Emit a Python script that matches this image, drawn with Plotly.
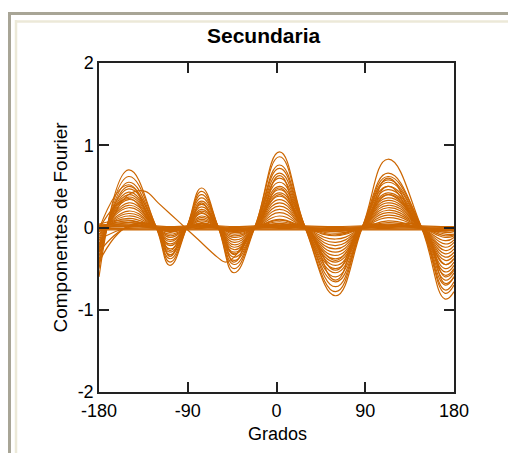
import plotly.graph_objects as go

# Key angles (degrees) at which each Fourier component curve was read
grados = [-180, -150, -122, -108, -91, -76, -59, -43, -22, 3, 29, 60, 87, 113, 147, 171, 180]

# Component curves (values at the angles above)
componentes = [
    [-0.60, 0.70, 0.00, -0.46, 0.00, 0.48, 0.00, -0.55, 0.00, 0.92, 0.00, -0.83, 0.00, 0.83, 0.00, -0.87, -0.78],
    [-0.50, 0.62, 0.01, -0.42, 0.00, 0.44, 0.00, -0.50, 0.01, 0.86, 0.00, -0.78, 0.01, 0.66, 0.00, -0.80, -0.70],
    [-0.45, 0.55, 0.00, -0.38, 0.01, 0.40, 0.00, -0.45, 0.00, 0.76, 0.01, -0.72, 0.00, 0.62, 0.01, -0.76, -0.66],
    [-0.40, 0.50, 0.00, -0.33, 0.00, 0.36, 0.01, -0.40, 0.00, 0.72, 0.00, -0.66, 0.00, 0.58, 0.00, -0.70, -0.60],
    [-0.35, 0.47, 0.01, -0.30, 0.00, 0.32, 0.00, -0.36, 0.00, 0.66, 0.00, -0.60, 0.00, 0.55, 0.00, -0.64, -0.55],
    [-0.30, 0.43, 0.00, -0.26, 0.00, 0.28, 0.00, -0.32, 0.01, 0.60, 0.00, -0.55, 0.01, 0.50, 0.00, -0.58, -0.50],
    [-0.28, 0.40, 0.00, -0.22, 0.00, 0.25, 0.00, -0.30, 0.00, 0.55, 0.00, -0.50, 0.00, 0.46, 0.00, -0.54, -0.46],
    [-0.25, 0.37, 0.00, -0.20, 0.00, 0.22, 0.00, -0.27, 0.00, 0.50, 0.01, -0.46, 0.00, 0.42, 0.00, -0.50, -0.42],
    [-0.22, 0.34, 0.00, -0.17, 0.00, 0.20, 0.00, -0.24, 0.00, 0.46, 0.00, -0.42, 0.00, 0.40, 0.00, -0.45, -0.38],
    [-0.20, 0.30, 0.00, -0.15, 0.00, 0.17, 0.00, -0.21, 0.00, 0.42, 0.00, -0.38, 0.00, 0.36, 0.00, -0.40, -0.34],
    [-0.16, 0.27, 0.00, -0.12, 0.00, 0.14, 0.00, -0.18, 0.00, 0.38, 0.00, -0.34, 0.00, 0.33, 0.00, -0.36, -0.30],
    [-0.13, 0.24, 0.00, -0.10, 0.00, 0.12, 0.00, -0.15, 0.00, 0.34, 0.00, -0.30, 0.00, 0.30, 0.00, -0.32, -0.26],
    [-0.10, 0.20, 0.00, -0.08, 0.00, 0.10, 0.00, -0.12, 0.00, 0.30, 0.00, -0.26, 0.00, 0.27, 0.00, -0.28, -0.22],
    [-0.08, 0.17, 0.00, -0.06, 0.00, 0.08, 0.00, -0.10, 0.00, 0.26, 0.00, -0.22, 0.00, 0.24, 0.00, -0.24, -0.18],
    [-0.05, 0.14, 0.00, -0.05, 0.00, 0.06, 0.00, -0.08, 0.00, 0.22, 0.00, -0.18, 0.00, 0.21, 0.00, -0.20, -0.15],
    [-0.03, 0.11, 0.00, -0.03, 0.00, 0.05, 0.00, -0.06, 0.00, 0.18, 0.00, -0.14, 0.00, 0.18, 0.00, -0.16, -0.12],
    [0.00, 0.08, 0.00, -0.02, 0.00, 0.04, 0.00, -0.04, 0.00, 0.14, 0.00, -0.10, 0.00, 0.15, 0.00, -0.12, -0.10],
    [0.02, 0.06, 0.00, -0.02, 0.00, 0.03, 0.00, -0.03, 0.00, 0.10, 0.00, -0.07, 0.00, 0.12, 0.00, -0.08, -0.08],
    [-0.02, 0.52, 0.00, -0.02, 0.00, 0.30, 0.00, -0.03, 0.00, 0.63, 0.00, -0.03, 0.00, 0.60, 0.00, -0.04, -0.03],
    [-0.02, 0.35, 0.00, -0.01, 0.00, 0.18, 0.00, -0.02, 0.00, 0.48, 0.00, -0.02, 0.00, 0.50, 0.00, -0.03, -0.02],
    [-0.42, 0.02, 0.00, -0.35, 0.00, 0.02, 0.00, -0.42, 0.00, 0.03, 0.00, -0.64, 0.00, 0.03, 0.00, -0.68, -0.60],
    [-0.30, 0.01, 0.00, -0.28, 0.00, 0.01, 0.00, -0.33, 0.00, 0.02, 0.00, -0.52, 0.00, 0.02, 0.00, -0.60, -0.52],
    [0.03, 0.04, 0.00, -0.03, 0.00, 0.03, 0.00, -0.03, 0.00, 0.05, 0.00, -0.03, 0.00, 0.04, 0.00, -0.04, -0.03],
    [0.02, 0.03, 0.00, -0.02, 0.00, 0.02, 0.00, -0.02, 0.00, 0.04, 0.00, -0.02, 0.00, 0.03, 0.00, -0.03, -0.02],
    [0.01, 0.02, 0.00, -0.01, 0.00, 0.01, 0.00, -0.02, 0.00, 0.03, 0.00, -0.02, 0.00, 0.02, 0.00, -0.02, -0.02],
    [0.00, 0.01, 0.00, -0.01, 0.00, 0.01, 0.00, -0.01, 0.00, 0.02, 0.00, -0.01, 0.00, 0.01, 0.00, -0.01, -0.01],
    [-0.01, -0.01, -0.01, -0.02, -0.01, -0.01, -0.01, -0.02, -0.01, -0.01, -0.01, -0.02, -0.01, -0.01, -0.01, -0.02, -0.02],
    [-0.02, -0.02, -0.02, -0.03, -0.02, -0.02, -0.02, -0.03, -0.02, -0.02, -0.02, -0.03, -0.02, -0.02, -0.02, -0.03, -0.03],
    [0.01, 0.01, 0.01, 0.00, 0.01, 0.01, 0.01, 0.00, 0.01, 0.01, 0.01, 0.00, 0.01, 0.01, 0.01, 0.00, 0.00],
    [-0.03, -0.03, -0.03, -0.04, -0.03, -0.03, -0.03, -0.04, -0.03, -0.03, -0.03, -0.04, -0.03, -0.03, -0.03, -0.04, -0.04],
    [0.02, 0.02, 0.02, 0.01, 0.02, 0.02, 0.02, 0.01, 0.02, 0.02, 0.02, 0.01, 0.02, 0.02, 0.02, 0.01, 0.01],
    [-0.05, 0.06, 0.00, -0.04, 0.00, 0.05, 0.00, -0.05, 0.00, 0.07, 0.00, -0.05, 0.00, 0.06, 0.00, -0.06, -0.05],
    [0.04, 0.09, 0.00, -0.01, 0.00, 0.02, 0.00, -0.01, 0.00, 0.09, 0.00, -0.01, 0.00, 0.08, 0.00, -0.02, -0.01],
    [-0.15, 0.00, -0.01, -0.05, -0.01, 0.00, -0.01, -0.06, -0.01, 0.00, -0.01, -0.09, -0.01, 0.00, -0.01, -0.10, -0.09],
]

# One odd component with a long diagonal stretch
grados_impar = [-180, -165, -150, -133, -120, -100, -80, -60, -52, -43, -22, 3, 29, 60, 87, 113, 147, 171, 180]
componente_impar = [-0.25, 0.15, 0.40, 0.44, 0.30, 0.08, -0.14, -0.36, -0.42, -0.36, 0.00, 0.40, 0.00, -0.40, 0.00, 0.40, 0.00, -0.45, -0.38]

x_ticks = [-180, -90, 0, 90, 180]
y_ticks = [-2, -1, 0, 1, 2]

COLOR = "rgb(204,102,0)"
FONT = "Liberation Sans, Arial, sans-serif"

fig = go.Figure()
for fila in componentes:
    fig.add_trace(go.Scatter(x=grados, y=fila, mode="lines",
                             line=dict(color=COLOR, width=1.2, shape="spline", smoothing=1.3),
                             showlegend=False, hoverinfo="skip"))
fig.add_trace(go.Scatter(x=grados_impar, y=componente_impar, mode="lines",
                         line=dict(color=COLOR, width=1.2, shape="spline", smoothing=1.0),
                         showlegend=False, hoverinfo="skip"))

W, H = 508, 453
L, R, T, B = 99, 454, 63, 392
pw, ph = R - L, B - T

def px(xp):
    return (xp - L) / pw

def py(yp):
    return (B - yp) / ph

axis_common = dict(showgrid=False, zeroline=False, showline=True, linecolor="#222222",
                   linewidth=1.5, mirror="ticks", ticks="inside", ticklen=10,
                   tickcolor="#222222", tickwidth=1.5,
                   tickfont=dict(family=FONT, size=18, color="#000000"))

fig.update_xaxes(range=[-180, 180], tickvals=x_ticks, ticktext=[str(v) for v in x_ticks],
                 ticklabelstandoff=2, **axis_common)
fig.update_yaxes(range=[-2, 2], tickvals=y_ticks, ticktext=[str(v) for v in y_ticks], **axis_common)

def seg(x0, y0, x1, y1, color, width):
    return dict(type="line", xref="paper", yref="paper", x0=px(x0), y0=py(y0), x1=px(x1), y1=py(y1),
                line=dict(color=color, width=width), layer="above")

shapes = [
    seg(8, 13.5, 520, 13.5, "#A8A596", 3),
    seg(9.5, 12, 9.5, 470, "#A8A596", 3),
    seg(15, 21.5, 520, 21.5, "#ECE9D8", 2.5),
    seg(16, 20, 16, 470, "#ECE9D8", 2.5),
]

annotations = [
    dict(text="<b>Secundaria</b>", xref="paper", yref="paper", x=px(264), y=py(35),
         xanchor="center", yanchor="middle", showarrow=False,
         font=dict(family=FONT, size=21, color="#000000")),
    dict(text="Grados", xref="paper", yref="paper", x=px(277), y=py(434),
         xanchor="center", yanchor="middle", showarrow=False,
         font=dict(family=FONT, size=18, color="#000000")),
    dict(text="Componentes de Fourier", xref="paper", yref="paper", x=px(60), y=py(227.5),
         xanchor="center", yanchor="middle", showarrow=False, textangle=-90,
         font=dict(family=FONT, size=19, color="#000000")),
]

fig.update_layout(width=W, height=H, margin=dict(l=L, r=W - R, t=T, b=H - B, pad=0),
                  paper_bgcolor="white", plot_bgcolor="white",
                  shapes=shapes, annotations=annotations, showlegend=False)

fig.write_html("out.html", config={"displayModeBar": False})
